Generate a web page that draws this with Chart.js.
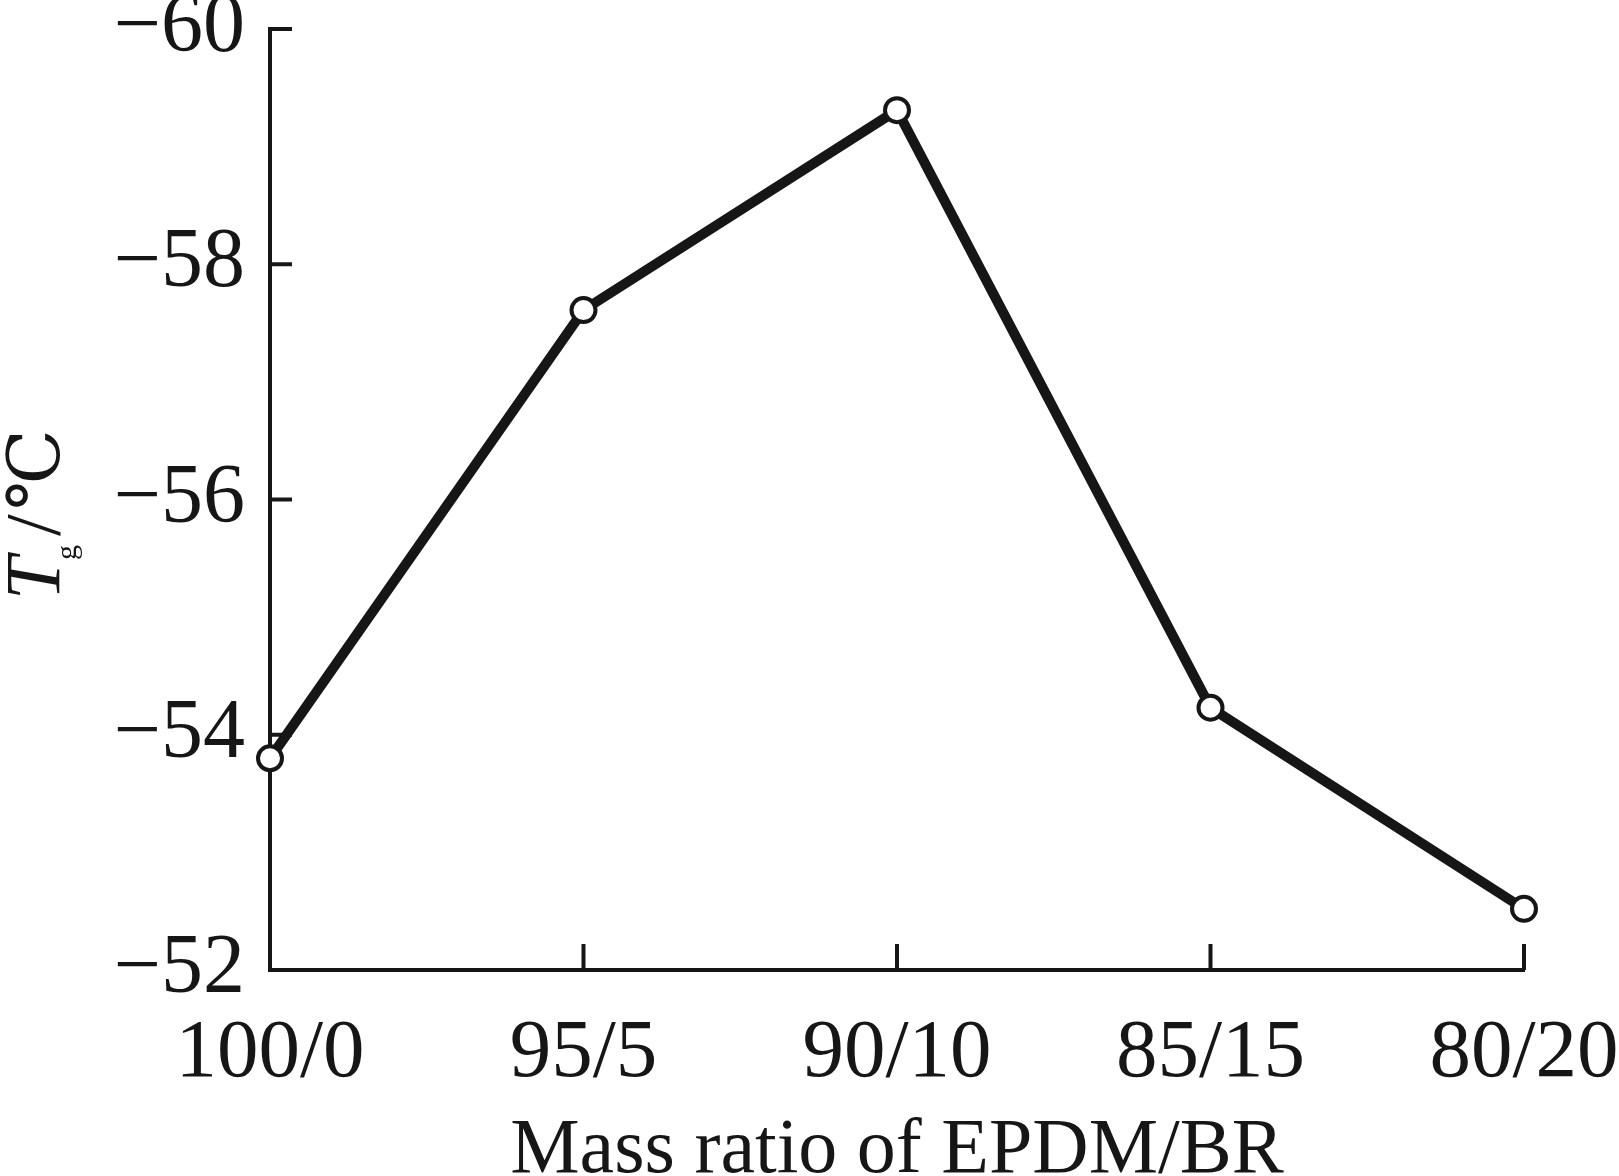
<!DOCTYPE html>
<html>
<head>
<meta charset="utf-8">
<script src="https://cdn.jsdelivr.net/npm/chart.js@4/dist/chart.umd.min.js"></script>
<style>
  html, body { margin: 0; padding: 0; background: #fff; }
  canvas { display: block; }
</style>
</head>
<body>
<canvas id="GraficaCanvas" width="1619" height="1176"></canvas>
<script>
const ratios = ["100/0", "95/5", "90/10", "85/15", "80/20"];
const tg = [-53.8, -57.61, -59.31, -54.23, -52.52];
const yTicks = [-60, -58, -56, -54, -52];

const ink = "#161616";
const serif = "'Liberation Serif', 'Times New Roman', serif";

// inward tick marks + y title with subscript
const axisExtras = {
  id: "axisExtras",
  beforeDatasetsDraw(chart) {
    const { ctx, scales } = chart;
    const x = scales.x, y = scales.y;
    ctx.save();
    ctx.strokeStyle = ink;
    ctx.lineWidth = 4;
    ctx.beginPath();
    yTicks.forEach((v) => {
      const py = y.getPixelForValue(v);
      ctx.moveTo(x.left, py);
      ctx.lineTo(x.left + 22, py);
    });
    ratios.forEach((r, i) => {
      const px = x.getPixelForTick(i);
      ctx.moveTo(px, y.bottom);
      ctx.lineTo(px, y.bottom - 26);
    });
    ctx.stroke();
    ctx.restore();
  },
  afterDraw(chart) {
    const ctx = chart.ctx;
    ctx.save();
    ctx.translate(59, 600);
    ctx.rotate(-Math.PI / 2);
    ctx.fillStyle = ink;
    ctx.textBaseline = "alphabetic";
    ctx.textAlign = "left";
    ctx.font = "italic 78px " + serif;
    ctx.fillText("T", 0, 0);
    ctx.font = "30px " + serif;
    ctx.fillText("g", 40, 17);
    ctx.font = "78px " + serif;
    ctx.fillText("/", 64, 0);
    ctx.font = "72px " + serif + ", 'DejaVu Serif'";
    ctx.fillText("\u2103", 90, 0);
    ctx.restore();
  },
};

const ctx = document.getElementById("GraficaCanvas").getContext("2d");

new Chart(ctx, {
  type: "line",
  data: {
    labels: ratios,
    datasets: [
      {
        label: "Tg",
        data: tg,
        borderColor: ink,
        borderWidth: 10,
        backgroundColor: "#ffffff",
        pointBackgroundColor: "#ffffff",
        pointBorderColor: ink,
        pointBorderWidth: 4,
        pointRadius: 12,
        tension: 0,
        fill: false,
        clip: false,
      },
    ],
  },
  options: {
    responsive: false,
    animation: false,
    layout: { padding: { top: 29, right: 95, left: 0, bottom: 0 } },
    plugins: {
      legend: { display: false },
      tooltip: { enabled: false },
    },
    scales: {
      x: {
        type: "category",
        offset: false,
        grid: { display: false },
        border: { display: true, color: ink, width: 4 },
        ticks: {
          color: ink,
          font: { family: serif, size: 83 },
          padding: 26,
          maxRotation: 0,
          autoSkip: false,
        },
        title: {
          display: true,
          text: "Mass ratio of EPDM/BR",
          color: ink,
          font: { family: serif, size: 78, lineHeight: 0.64 },
          padding: 0,
        },
        afterFit(scale) {
          scale.height = 206;
          scale.paddingLeft = 0;
          scale.paddingRight = 0;
        },
      },
      y: {
        reverse: true,
        min: -60,
        max: -52,
        grid: { display: false },
        border: { display: true, color: ink, width: 4 },
        ticks: {
          stepSize: 2,
          color: ink,
          padding: 17,
          font: { family: serif, size: 84, lineHeight: 0.571 },
          callback: (v) => "\u2212" + Math.abs(v),
        },
        afterFit(scale) {
          scale.width = 270;
          scale.paddingTop = 0;
          scale.paddingBottom = 0;
        },
      },
    },
  },
  plugins: [axisExtras],
});
</script>
</body>
</html>
